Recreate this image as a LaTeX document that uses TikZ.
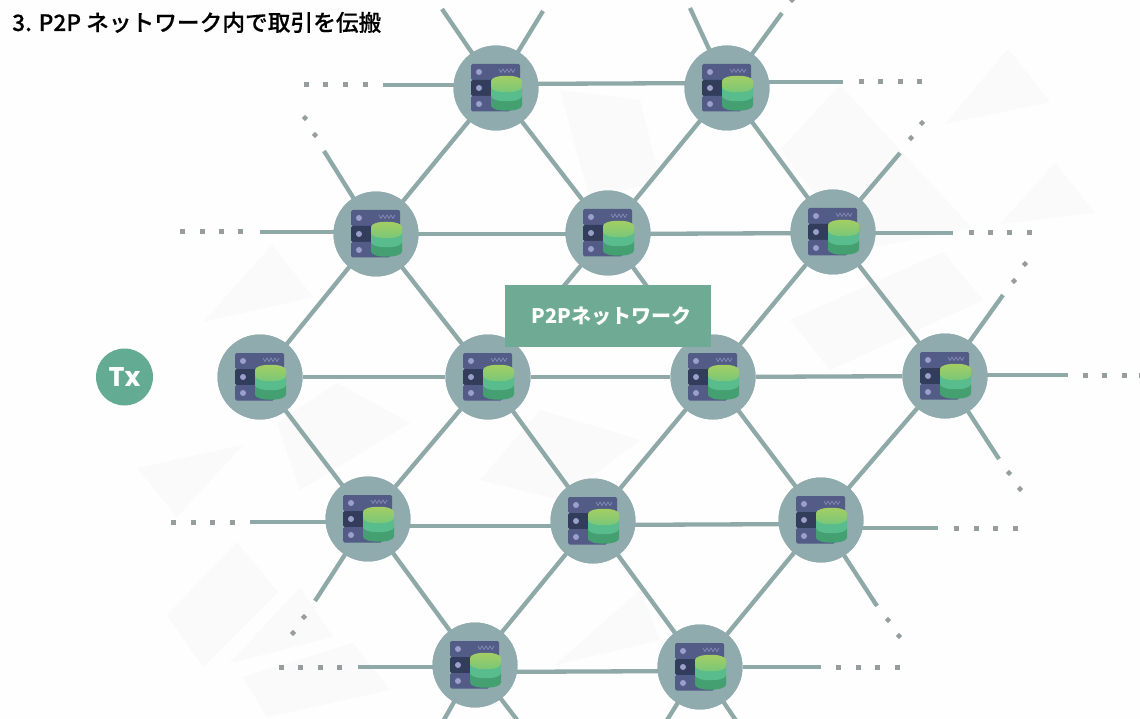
\documentclass[tikz,border=0pt]{standalone}
\usepackage{fontspec}
\usetikzlibrary{calc}
\newfontfamily\cjktitle[FakeBold=0.15]{Noto Sans CJK JP Medium}
\newfontfamily\cjklabel{Noto Sans CJK JP}
\newfontfamily\txfont{Poppins}
\definecolor{bgpaper}{HTML}{FEFEFE}
\definecolor{faintshape}{HTML}{F9FAF9}
\definecolor{netline}{HTML}{8FA8A8}
\definecolor{netdisc}{HTML}{90ABAE}
\definecolor{dotgrey}{HTML}{979C9C}
\definecolor{rackmid}{HTML}{525C86}
\definecolor{rackdark}{HTML}{323D5C}
\definecolor{rackdot}{HTML}{9A9FCB}
\definecolor{limetop}{HTML}{A9CF60}
\definecolor{limelow}{HTML}{74C67C}
\definecolor{midgreen}{HTML}{58BC8C}
\definecolor{lowgreen}{HTML}{44A070}
\definecolor{labelgreen}{HTML}{6FAB94}
\definecolor{txgreen}{HTML}{63AB92}
\tikzset{
  peer/.style={circle,fill=netdisc,draw=none,minimum size=85pt,inner sep=0pt},
  link/.style={draw=netline,line width=4.3pt},
  ghost/.style={fill=faintshape,draw=none},
  serverpic/.pic={
    \fill[rackmid,rounded corners=1.5pt] (-25,-24) rectangle (24,-8);
    \fill[rackdark,rounded corners=1.5pt] (-25,-8) rectangle (14,8);
    \fill[rackmid,rounded corners=1.5pt] (-25,8) rectangle (14,23.5);
    \fill[rackdot] (-17,-16) circle (3);
    \fill[rackdot] (-17,0) circle (3);
    \fill[rackdot] (-17,16) circle (3);
    \draw[rackdot!70!rackmid,line width=.7pt] (3,-19) -- (5,-15.5) -- (7,-19) -- (9,-15.5) -- (11,-19) -- (13,-15.5) -- (15,-19) -- (17,-15.5) -- (19,-19);
    \fill[lowgreen] (-5,8) -- (-5,17.5) .. controls (-5,24.5) and (26,24.5) .. (26,17.5) -- (26,8) -- cycle;
    \fill[midgreen] (-5,-2) -- (-5,8) .. controls (-5,15) and (26,15) .. (26,8) -- (26,-2) -- cycle;
    \shade[top color=limetop,bottom color=limelow] (-5,-7) -- (-5,-1) .. controls (-5,6) and (26,6) .. (26,-1) -- (26,-7) .. controls (26,-14) and (-5,-14) .. (-5,-7) -- cycle;
  }
}
\newcommand{\sqdots}[1]{\foreach \px/\py in {#1} {\fill[dotgrey] (\px-2.5,\py-2.5) rectangle (\px+2.5,\py+2.5);}}
\newcommand{\diadots}[1]{\foreach \px/\py in {#1} {\fill[dotgrey] (\px-3.2,\py) -- (\px,\py-3.2) -- (\px+3.2,\py) -- (\px,\py+3.2) -- cycle;}}
\begin{document}
\begin{tikzpicture}[x=1pt,y=-1pt]
\useasboundingbox (0,0) rectangle (1140,719);
\fill[bgpaper] (0,0) rectangle (1140,719);
% faint background shapes
\fill[ghost] (1008,49) -- (1050,102) -- (945,124) -- cycle;
\fill[ghost] (1055,163) -- (1095,213) -- (1000,224) -- cycle;
\fill[ghost] (840,85) -- (972,228) -- (860,250) -- (780,150) -- cycle;
\fill[ghost] (943,252) -- (983,300) -- (830,370) -- (790,320) -- cycle;
\fill[ghost] (272,245) -- (313,297) -- (203,322) -- cycle;
\fill[ghost] (137,468) -- (243,445) -- (177,517) -- cycle;
\fill[ghost] (237,542) -- (278,592) -- (203,667) -- (167,615) -- cycle;
\fill[ghost] (300,587) -- (333,637) -- (230,663) -- cycle;
\fill[ghost] (353,643) -- (390,690) -- (267,717) -- (243,677) -- cycle;
\fill[ghost] (337,383) -- (410,423) -- (300,490) -- (277,423) -- cycle;
\fill[ghost] (640,590) -- (660,640) -- (555,665) -- cycle;
\fill[ghost] (560,90) -- (640,100) -- (660,180) -- (590,200) -- cycle;
\fill[ghost] (540,410) -- (640,440) -- (560,500) -- (480,480) -- cycle;
% peers
\foreach \nm/\cx/\cy in {A1/496/88,A2/727/88,B1/376/234,B2/608/233,B3/833/232,C1/260/377,C2/488/377,C3/713/377,C4/945/376,D1/368/519,D2/593/521,D3/821/520,E1/475/665,E2/700/667}
  \node[peer] (\nm) at (\cx,\cy) {};
% free ends
\foreach \nm/\cx/\cy in {fa/442/9,fb/543/11,fc/690/8,fd/782/13,fe/383/85,ff/843/82,fg/324/151,fh/260/232,fi/900/153,fj/953/233,fk/1003/295,fl/1068/375,fm/999/459,fn/938/528,fo/250/522,fp/315/601,fq/877/606,fr/358/667,fs/821/667,ft/441/725,fu/521/725,fv/664/725,fw/739/725}
  \coordinate (\nm) at (\cx,\cy);
\foreach \p/\q in {A1/B1,A1/B2,A2/B2,A2/B3,B1/C1,B1/C2,B2/C2,B2/C3,B3/C3,B3/C4,C1/D1,C2/D1,C2/D2,C3/D2,C3/D3,C4/D3,D1/E1,D2/E1,D2/E2,D3/E2}
  \draw[link] (\p.center) -- (\q.center);
\draw[link] ($(A1)+(0,-4)$) -- ($(A2)+(0,-5)$);
\draw[link] ($(B1)+(0,0)$) -- ($(B2)+(0,1)$);
\draw[link] ($(B2)+(0,1)$) -- ($(B3)+(0,1)$);
\draw[link] (C1) -- (C2);
\draw[link] (C2) -- (C3);
\draw[link] (C3) -- (C4);
\draw[link] ($(D1)+(0,7)$) -- ($(D2)+(0,5)$);
\draw[link] ($(D2)+(0,4)$) -- ($(D3)+(0,4)$);
\draw[link] ($(E1)+(0,7)$) -- ($(E2)+(0,4)$);
\foreach \p/\q in {A1/fa,A1/fb,A2/fc,A2/fd,B1/fg,B3/fi,C4/fk,C4/fm,D1/fp,D3/fq,E1/ft,E1/fu,E2/fv,E2/fw}
  \draw[link] (\p.center) -- (\q);
\draw[link] ($(A1)+(0,-3)$) -- (fe);
\draw[link] ($(A2)+(0,-6)$) -- (ff);
\draw[link] ($(B1)+(0,-2)$) -- (fh);
\draw[link] ($(B3)+(0,1)$) -- (fj);
\draw[link] ($(C4)+(0,-1)$) -- (fl);
\draw[link] ($(D3)+(0,8)$) -- (fn);
\draw[link] ($(D1)+(0,3)$) -- (fo);
\draw[link] ($(E1)+(0,2)$) -- (fr);
\draw[link] (E2) -- (fs);
% dots
\sqdots{306/85,325/85,345/85,365/85,861/82,880/82,900/82,919/82,182/232,202/232,221/232,240/232,971/233,990/233,1009/233,1029/233,1085/375,1104/375,1124/375,1141/375,956/528,976/528,995/528,1015/528,173/522,193/522,212/522,232/522,281/667,300/667,320/667,339/667,838/667,858/667,877/667,897/667}
\diadots{315/135,305/118,911/138,922/123,1014/281,1025/264,1009/473,1020/489,304/617,293/633,888/620,899/636,792/0}
% discs with icons on top of the connectors
\foreach \nm in {A1,A2,B1,B2,B3,C1,C2,C3,C4,D1,D2,D3,E1,E2} {
  \fill[netdisc] (\nm) circle (42.5);
  \pic at (\nm) {serverpic};
}
% label and Tx
\node[fill=labelgreen,minimum width=206pt,minimum height=62pt,inner sep=0pt] (netlabel) at (608,316) {};
\node[text=white,inner sep=0pt,font=\cjklabel\bfseries\fontsize{20}{24}\selectfont] (netlabeltext) at (611.5,316.5) {P2Pネットワーク};
\node[circle,fill=txgreen,text=white,minimum size=57pt,inner sep=0pt,font=\txfont\bfseries\fontsize{27}{31}\selectfont] (tx) at (124.5,377) {Tx};
\node[anchor=base west,inner sep=0pt,text=black,font=\cjktitle\fontsize{22.7}{26}\selectfont] (title) at (12,31) {3. P2P ネットワーク内で取引を伝搬};
\end{tikzpicture}
\end{document}
